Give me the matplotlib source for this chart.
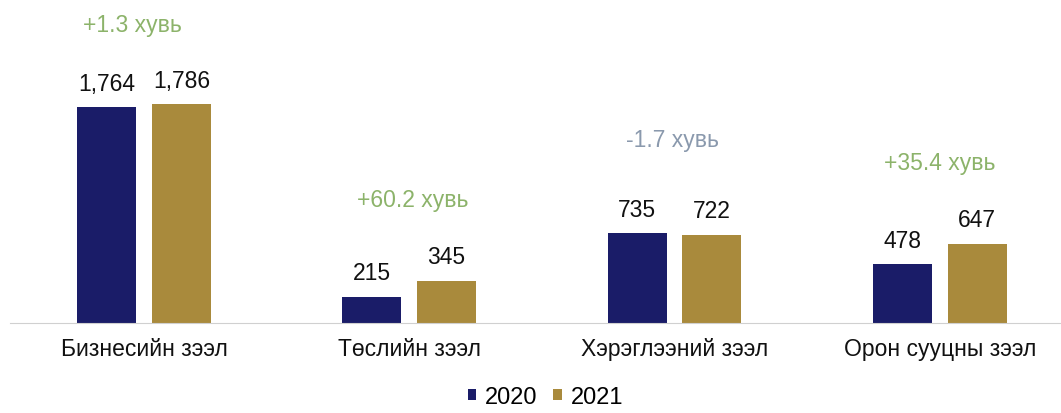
import matplotlib
matplotlib.use("Agg")
import matplotlib.pyplot as plt
import numpy as np

plt.rcParams["font.family"] = ["Liberation Sans", "DejaVu Sans"]

categories = ["Бизнесийн зээл", "Төслийн зээл", "Хэрэглээний зээл", "Орон сууцны зээл"]
values_2020 = [1764, 215, 735, 478]
values_2021 = [1786, 345, 722, 647]
change_labels = ["+1.3 хувь", "+60.2 хувь", "-1.7 хувь", "+35.4 хувь"]
change_colors = ["#8cb36a", "#8cb36a", "#8a99ad", "#8cb36a"]

# where each change note sits (x shift from group centre, baseline in data units)
note_dx = [-0.045, 0.012, -0.006, 0.0]
note_y = [2386, 956, 1446, 1258]

NAVY = "#1a1c68"
GOLD = "#a98a3c"
FS = 16.5

fig = plt.figure(figsize=(10.61, 4.14), dpi=100)
ax = fig.add_axes([0.0094, 90 / 414, 0.9906, 324 / 414])

x = np.arange(len(categories))
w = 0.222
off = 0.141
b1 = ax.bar(x - off, values_2020, w, color=NAVY, label="2020")
b2 = ax.bar(x + off, values_2021, w, color=GOLD, label="2021")

for bars, vals in ((b1, values_2020), (b2, values_2021)):
    for r, v in zip(bars, vals):
        ax.annotate(f"{v:,}", (r.get_x() + r.get_width() / 2, v),
                    xytext=(0, 12.5), textcoords="offset points",
                    ha="center", va="baseline", fontsize=FS, color="#111111")

for xi, txt, c, dx, ny in zip(x, change_labels, change_colors, note_dx, note_y):
    ax.text(xi + dx, ny, txt, ha="center", va="baseline", fontsize=FS, color=c)

ax.set_xlim(-0.505, 3.457)
ax.set_ylim(0, 2647)
ax.set_xticks(x)
ax.set_xticklabels(categories, fontsize=FS, color="#111111")
ax.tick_params(axis="x", length=0, pad=10)
ax.set_yticks([])
for s in ("top", "right", "left"):
    ax.spines[s].set_visible(False)
ax.spines["bottom"].set_color("#d0d0d0")

fig.legend(handles=[b1, b2], loc="center", bbox_to_anchor=(0.514, 16 / 414),
           ncol=2, frameon=False, fontsize=17, handlelength=0.35,
           handleheight=0.35, handletextpad=0.38, columnspacing=0.68)

fig.savefig("out.png", dpi=100)
